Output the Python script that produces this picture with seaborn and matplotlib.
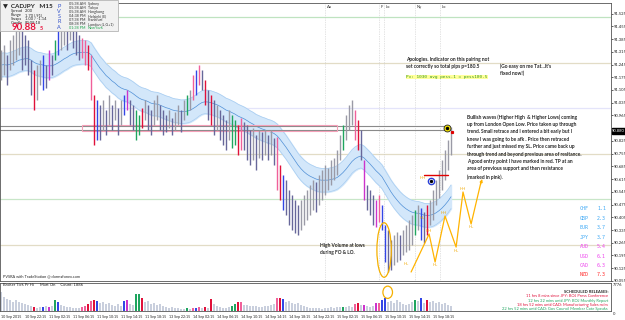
import numpy as np
import pandas as pd
import matplotlib
matplotlib.use("Agg")
import matplotlib.pyplot as plt
import seaborn as sns
from matplotlib.patches import Rectangle, Ellipse

# CADJPY M15 bars (high / low)
highs = [91.325, 91.352, 91.297, 91.38, 91.407, 91.446, 91.462, 91.435, 91.407, 91.38,
         91.27, 91.215, 91.242, 91.27, 91.297, 91.242, 91.325, 91.297, 91.38, 91.435,
         91.462, 91.49, 91.462, 91.49, 91.479, 91.435, 91.407, 91.391, 91.38, 91.352,
         91.297, 91.077, 91.05, 91.022, 91.05, 90.995, 91.077, 91.022, 91.05, 91.006,
         91.05, 91.077, 91.105, 91.05, 91.022, 90.995, 90.967, 91.006, 91.05, 91.022,
         90.995, 91.05, 91.077, 91.022, 90.995, 90.967, 90.995, 90.951, 90.984, 91.022,
         90.995, 91.05, 91.077, 91.105, 91.187, 91.215, 91.242, 91.215, 91.16, 91.105,
         91.077, 91.05, 91.022, 90.995, 90.967, 90.94, 90.995, 90.967, 90.94, 90.912,
         90.951, 90.929, 90.912, 90.885, 90.896, 90.857, 90.885, 90.874, 90.885, 90.857,
         90.885, 90.841, 90.846, 90.692, 90.637, 90.61, 90.555, 90.527, 90.50, 90.472,
         90.50, 90.527, 90.555, 90.582, 90.61, 90.599, 90.637, 90.665, 90.692, 90.676,
         90.72, 90.731, 90.775, 90.857, 90.912, 90.967, 91.022, 91.05, 90.995, 90.94,
         90.885, 90.72, 90.582, 90.555, 90.527, 90.50, 90.527, 90.472, 90.362, 90.335,
         90.28, 90.307, 90.324, 90.307, 90.335, 90.362, 90.39, 90.417, 90.445, 90.472,
         90.456, 90.434, 90.472, 90.50, 90.555, 90.61, 90.665, 90.72, 90.775, 90.83,
         90.901]
lows = [91.16, 91.187, 91.132, 91.215, 91.242, 91.27, 91.297, 91.215, 91.242, 91.187,
        91.077, 90.995, 91.05, 91.132, 91.105, 91.116, 91.16, 91.187, 91.27, 91.297,
        91.325, 91.352, 91.325, 91.38, 91.336, 91.297, 91.27, 91.281, 91.242, 91.215,
        91.05, 90.802, 90.83, 90.83, 90.885, 90.857, 90.912, 90.885, 90.94, 90.857,
        90.912, 90.967, 90.995, 90.912, 90.885, 90.83, 90.857, 90.896, 90.94, 90.885,
        90.857, 90.912, 90.94, 90.885, 90.857, 90.874, 90.896, 90.857, 90.885, 90.912,
        90.874, 90.94, 90.967, 90.995, 91.05, 91.077, 91.132, 91.105, 91.022, 90.94,
        90.912, 90.857, 90.885, 90.83, 90.802, 90.775, 90.83, 90.786, 90.802, 90.747,
        90.775, 90.775, 90.72, 90.692, 90.72, 90.665, 90.731, 90.72, 90.747, 90.72,
        90.747, 90.692, 90.555, 90.50, 90.445, 90.417, 90.362, 90.335, 90.318, 90.307,
        90.335, 90.362, 90.39, 90.417, 90.445, 90.434, 90.472, 90.50, 90.527, 90.555,
        90.582, 90.61, 90.637, 90.72, 90.775, 90.83, 90.885, 90.912, 90.83, 90.775,
        90.72, 90.50, 90.445, 90.417, 90.362, 90.351, 90.379, 90.335, 90.159, 90.104,
        90.115, 90.142, 90.159, 90.17, 90.197, 90.214, 90.225, 90.252, 90.307, 90.335,
        90.28, 90.263, 90.307, 90.362, 90.39, 90.472, 90.511, 90.555, 90.61, 90.665,
        90.747]
volume = [5300, 4000, 3300, 3000, 2600, 3100, 2500, 2200, 1900, 1700,
          1500, 1100, 900, 1200, 1100, 1300, 1100, 1400, 3000, 2400,
          1600, 1400, 1200, 1000, 900, 800, 700, 1100, 1500, 2000,
          2800, 3100, 2700, 2200, 2400, 2000, 2300, 1800, 1500, 1900,
          1300, 2900, 3000, 2000, 1600, 4800, 4800, 3600, 2400, 2700,
          2000, 2300, 1700, 1900, 1500, 1200, 900, 1100, 800, 700,
          600, 500, 700, 600, 800, 900, 1000, 700, 1000, 800,
          3300, 2000, 1300, 1000, 900, 800, 1200, 1500, 2000, 2600,
          2400, 1800, 1700, 1500, 1300, 1400, 1200, 1100, 1500, 1300,
          1600, 1900, 3500, 3600, 3400, 2600, 2800, 2200, 1900, 2300,
          1600, 1300, 1000, 800, 900, 700, 800, 600, 900, 700,
          1000, 800, 1200, 1100, 1200, 1000, 1300, 1100, 2000, 2100,
          1600, 1800, 1400, 1200, 1500, 2100, 2200, 3000, 3600, 2500,
          2900, 2300, 3100, 2600, 2000, 1700, 1900, 2400, 3100, 2800,
          3500, 2200, 3100, 2500, 2800, 2300, 2600, 1900, 2200, 1800,
          1500]

# PVSRA climax / rising volume bars
RED, GREEN, BLUE, MAG, PINK = '#e0103a', '#1fa55f', '#3346e6', '#cc33cc', '#f0609a'
climax_bars = {11: RED, 14: BLUE, 16: MAG, 18: GREEN, 19: BLUE, 27: PINK, 28: PINK,
               29: RED, 30: PINK, 31: RED, 32: BLUE, 41: BLUE, 42: MAG, 45: GREEN,
               46: GREEN, 47: RED, 62: GREEN, 64: PINK, 65: BLUE, 66: PINK, 68: RED,
               70: RED, 77: GREEN, 78: GREEN, 79: RED, 80: PINK, 92: PINK, 93: RED,
               94: BLUE, 114: GREEN, 118: PINK, 119: RED, 121: MAG, 125: MAG,
               126: PINK, 127: BLUE, 128: BLUE, 138: GREEN, 140: BLUE, 142: RED}

price_ticks = [91.525, 91.455, 91.385, 91.315, 91.245, 91.175, 91.105, 91.035, 90.965,
               90.825, 90.755, 90.685, 90.615, 90.545, 90.475, 90.405, 90.335, 90.265,
               90.195, 90.125, 90.055]
last_price = 90.880

date_labels = ['10 Sep 2015', '10 Sep 22:15', '11 Sep 02:15', '11 Sep 06:15', '11 Sep 10:15',
               '11 Sep 14:15', '11 Sep 18:15', '13 Sep 22:15', '14 Sep 02:15', '14 Sep 06:15',
               '14 Sep 10:15', '14 Sep 14:15', '14 Sep 18:15', '14 Sep 22:15', '15 Sep 02:15',
               '15 Sep 06:15', '15 Sep 10:15', '15 Sep 14:15', '15 Sep 18:15']

# horizontal levels drawn on the chart
level_prices = [91.507, 91.254, 91.006, 90.753, 90.506, 90.253]
level_colors = ['#bfe3c0', '#e2dcc6', '#e4e4fa', '#e2dcc6', '#c8e6c8', '#e2dcc6']
grey_lines = [90.907, 90.885]
session_bars = [108, 126, 127.7, 138, 146.3]
session_names = ['Au', 'F', 'Lo', 'Ny', 'Lo']

# hand drawn wave count
zigzag_bars = [136.7, 142.7, 144.7, 148.0, 151.7, 154.0, 156.7, 160.0]
zigzag_prices = [90.104, 90.313, 90.159, 90.412, 90.241, 90.544, 90.368, 90.599]
wave_tags = [(140.5, 90.62, 'HH'), (135.0, 90.15, 'HL'), (140.5, 90.40, 'HL'),
             (142.7, 90.33, 'HH'), (144.7, 90.14, 'HL'), (147.5, 90.43, 'HH'),
             (151.7, 90.22, 'HL'), (154.0, 90.56, 'HH'), (156.7, 90.35, 'HL')]

strength_ccy = ['CHF', 'GBP', 'EUR', 'JPY', 'AUD', 'USD', 'CAD', 'NZD']
strength_val = [1.1, 2.3, 3.7, 3.7, 5.4, 6.1, 6.3, 7.3]
strength_col = ['#3fa9f5'] * 4 + ['#ee44ee'] * 3 + ['#ff2a2a']

sns.set_theme(style='white')
plt.rcParams['font.family'] = ['Lato', 'DejaVu Sans']

W, H = 625, 320
fig = plt.figure(figsize=(W / 100, H / 100), dpi=100)


def fx(px):
    return px / W


def fy(py):
    return 1 - py / H


ax = fig.add_axes([0, fy(281), fx(611), 278 / H])
vax = fig.add_axes([0, fy(311), fx(611), 28 / H])

n = len(highs)
bars = np.arange(n)
hi = np.array(highs)
lo = np.array(lows)
mid = (hi + lo) / 2

# band indicator (EMA of the bar mids)
ema = pd.Series(mid).ewm(span=26, adjust=False).mean()
ax.fill_between(bars, ema - 0.065, ema + 0.065, color='#d3e7fa', zorder=1)
ax.plot(bars, ema - 0.065, color='#a8cdf1', lw=0.5, zorder=1)
ax.plot(bars, ema + 0.065, color='#a8cdf1', lw=0.5, zorder=1)
sns.lineplot(x=bars, y=ema, ax=ax, color='#4f8fd6', lw=0.5, zorder=2)

for p, c in zip(level_prices, level_colors):
    ax.axhline(p, color=c, lw=0.9, zorder=0)
for p in grey_lines:
    ax.plot([-1, 149], [p, p], color='#8a8a8a', lw=0.8, zorder=2)
ax.add_patch(Rectangle((27, 90.879), 85, 0.034, fill=False, ec='#f4a0b8', lw=0.8, zorder=2))
for b, name in zip(session_bars, session_names):
    ax.axvline(b, color='#c8c8c8', lw=0.5, ls=(0, (1, 1.5)), zorder=0)
    ax.text(b + 0.6, 91.575, name, fontsize=3, va='top', color='#333333')

# OHLC bars
cols = []
for i in range(n):
    if i in climax_bars:
        cols.append(climax_bars[i])
    elif i > 0 and mid[i] < mid[i - 1]:
        cols.append('#67679a')
    else:
        cols.append('#9a9aa6')
ax.vlines(bars, lo, hi, colors=cols, lw=1.0, zorder=3)

# trade marks
ax.plot([141, 149], [90.64, 90.64], color='#e00000', lw=1.0, zorder=4)
ax.plot(143.4, 90.603, 'o', ms=4.5, mfc='white', mec='#2a3fd8', mew=1.0, zorder=5)
ax.plot(143.4, 90.603, 'o', ms=1.4, color='black', zorder=6)
ax.plot(148.7, 90.895, 'o', ms=5, mfc='#f7e600', mec='#222222', mew=0.6, zorder=5)
ax.plot(148.7, 90.895, 'o', ms=1.5, color='black', zorder=6)
ax.plot(150.2, 90.875, 's', ms=1.3, color='#e00000', zorder=6)
ax.add_patch(Ellipse((127.7, 90.225), 4.8, 0.30, fill=False, ec='#f5b000', lw=0.9, zorder=5))

ax.plot(zigzag_bars, zigzag_prices, color='#ffb300', lw=0.9, zorder=4)
ax.annotate('', xy=(160.6, 90.63), xytext=(159.6, 90.57),
            arrowprops=dict(arrowstyle='-|>', color='#ffb300', lw=0.8, mutation_scale=4))
for b, p, t in wave_tags:
    ax.text(b, p, t, fontsize=3, color='#f0a800', ha='center', va='center', zorder=6)

ax.set_xlim(-0.33, 203.33)
ax.set_ylim(90.0545, 91.5835)
ax.yaxis.tick_right()
ax.set_yticks(price_ticks)
ax.set_yticklabels([f'{t:.3f}' for t in price_ticks])
ax.tick_params(axis='y', labelsize=3.0, length=1.5, width=0.5, pad=0.8, colors='#222222')
ax.set_xticks([])
for s in ax.spines.values():
    s.set_color('#555555')
    s.set_linewidth(0.6)
ax.text(1.002, (last_price - 90.0545) / (91.5835 - 90.0545), f'{last_price:.3f}',
        transform=ax.transAxes, fontsize=3.0, color='white', va='center',
        bbox=dict(boxstyle='square,pad=0.15', fc='black', ec='black'))

# volume panel
vdf = pd.DataFrame({'bar': bars, 'vol': volume,
                    'col': [climax_bars.get(i, '#c9cfdd') for i in range(n)]})
sns.barplot(data=vdf, x='bar', y='vol', hue='col', palette={c: c for c in vdf['col'].unique()},
            native_scale=True, dodge=False, width=0.7, saturation=1, legend=False,
            linewidth=0, ax=vax)
vax.add_patch(Ellipse((128.9, 5200), 3.2, 3400, fill=False, ec='#f5b000', lw=0.9, zorder=5))
vax.set_xlim(-0.33, 203.33)
vax.set_ylim(0, 7776)
vax.set_xlabel('')
vax.set_ylabel('')
vax.set_yticks([])
vax.set_xticks(bars[::8][:len(date_labels)])
vax.set_xticklabels(date_labels, ha='left')
vax.tick_params(axis='x', labelsize=2.6, length=2, width=0.5, pad=0.8, colors='#222222')
for s in vax.spines.values():
    s.set_color('#555555')
    s.set_linewidth(0.6)
vax.text(1.003, 0.93, '7776', transform=vax.transAxes, fontsize=3.0, va='center')
fig.text(fx(613), fy(314), '0', fontsize=3.0, va='center')
fig.text(fx(3), fy(285.5), 'Broker Tick Pr Hi      Mart On     Count: 1886', fontsize=3,
         va='center', color='#222222')

# info box top-left
fig.patches.append(Rectangle((0, fy(31)), fx(118), 31 / H, transform=fig.transFigure,
                             fc='#f1f1f1', ec='#b5b5b5', lw=0.6, zorder=10))
fig.text(fx(3), fy(5.5), '\u25bc  CADJPY   M15', fontsize=4.6, weight='bold', va='center', zorder=11)
for k, (lab, val) in enumerate(zip(['Spread', 'Range', 'Swaps', 'Candle'],
                                   ['2.00', '1.70 (.91)', '1.00 / -1.14', '00:08:18'])):
    fig.text(fx(11), fy(11 + 4 * k), lab, fontsize=2.9, va='center', zorder=11)
    fig.text(fx(25), fy(11 + 4 * k), val, fontsize=2.9, va='center', zorder=11)
fig.text(fx(12), fy(28), '90.88', fontsize=7, weight='bold', color='#e8123c', va='center', zorder=11)
fig.text(fx(40), fy(29), '5', fontsize=4, weight='bold', color='#e8123c', va='center', zorder=11)
for k, ch in enumerate('PVSRA'):
    fig.text(fx(59), fy(6 + 5.3 * k), ch, fontsize=4.0, color='#2f4fc8', ha='center',
             va='center', zorder=11)
times = ['05:38 AM', '05:38 AM', '05:38 AM', '04:38 PM', '07:38 PM', '08:38 PM', '01:38 PM']
cities = ['Sydney', 'Tokyo', 'Hongkong', 'Helsinki (E)', 'Frankfurt', 'London (L,G+1)', 'NewYork']
for k, (t, c) in enumerate(zip(times, cities)):
    colr = '#1aa34a' if c == 'NewYork' else '#333333'
    fig.text(fx(69), fy(4 + 4 * k), t, fontsize=2.7, va='center', color=colr, zorder=11)
    fig.text(fx(88), fy(4 + 4 * k), c, fontsize=2.7, va='center', color=colr, zorder=11)

# notes
note = dict(fontsize=3.5, weight='bold', va='top', linespacing=1.6)
fig.text(fx(406), fy(57), 'Apologies. Indicator on this pairing not\nset correctly so total pips p=180.5',
         **note)
fig.text(fx(406), fy(77), 'Pv: 1030 avg pess.1 = pess180.5', fontsize=3.2, color='#3a9a20',
         va='center', family=['DejaVu Sans Mono'],
         bbox=dict(boxstyle='square,pad=0.1', fc='#ffff9a', ec='none'))
fig.text(fx(500), fy(63), "(Go easy on me Tat...It's\nfixed now!)", **note)
fig.text(fx(467), fy(114),
         'Bullish waves (Higher High  & Higher Lows) coming\n'
         'up from London Open Low. Price taken up through\n'
         'trend. Small retrace and I entered a bit early but I\n'
         'knew I was going to be afk . Price then retraced\n'
         'further and just missed my SL. Price came back up\n'
         'through trend and beyond previous area of resitance.\n'
         'A good entry point I have marked in red. TP at an\n'
         'area of previous support and then resistance\n'
         '(marked in pink).', **note)
fig.text(fx(320), fy(243), 'High Volume at lows\nduring FO & LO.', **note)
fig.text(fx(3), fy(276.5), 'PVSRA with TradeStation @ dormafonex.com', fontsize=2.8, va='center',
         color='#222222')

for k, (c, v, colr) in enumerate(zip(strength_ccy, strength_val, strength_col)):
    fig.text(fx(580), fy(209 + 9.4 * k), c, fontsize=3.6, color=colr, va='center',
             family=['DejaVu Sans Mono'])
    fig.text(fx(597), fy(209 + 9.4 * k), f'{v:.1f}', fontsize=3.6, color=colr, va='center',
             family=['DejaVu Sans Mono'])

releases = [('SCHEDULED RELEASES:', '#222222'),
            ('11 hrs 8 mins since JPY: BOJ Press Conference', '#e0103a'),
            ('12 hrs 22 mins until JPY: BOJ Monthly Report', '#1fa55f'),
            ('18 hrs 52 mins until CAD: Manufacturing Sales m/m', '#e0103a'),
            ('22 hrs 52 mins until CAD: Gov Council Member Cote Speaks', '#1fa55f')]
for k, (t, colr) in enumerate(releases):
    fig.text(fx(608), fy(292 + 4.3 * k), t, fontsize=2.9, color=colr, ha='right', va='center',
             weight='bold' if k == 0 else 'normal')

fig.savefig('out.png', dpi=100)
